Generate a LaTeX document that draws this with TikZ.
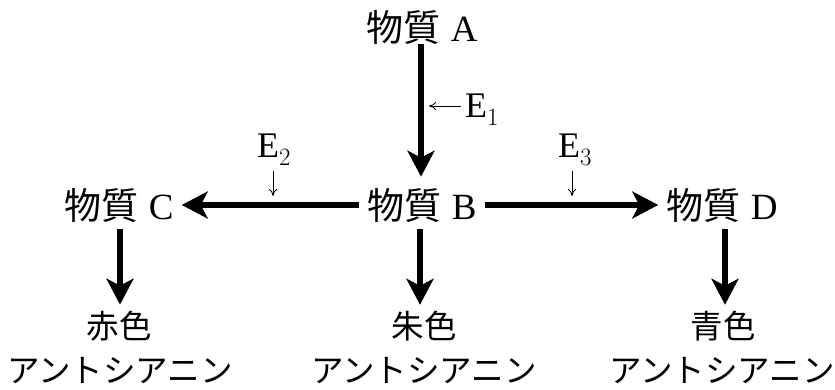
\documentclass[tikz,border=0pt]{standalone}
\usepackage{fontspec}
\setmainfont{Liberation Serif}
\newfontfamily\jp{Noto Sans CJK JP}
\usetikzlibrary{arrows.meta}
\begin{document}
\begin{tikzpicture}[x=1pt,y=-1pt,
  mat/.style={font=\fontsize{37}{40}\selectfont, inner xsep=8pt, inner ysep=0pt},
  col/.style={font=\fontsize{32.5}{36}\selectfont\jp, inner sep=0pt},
  elab/.style={font=\fontsize{36}{40}\selectfont, inner sep=0pt, anchor=base west},
  thick arrow/.style={line width=6pt, -{Stealth[length=26pt,width=27pt,inset=7pt]}},
  down arrow/.style={thick arrow, shorten <=7pt, shorten >=6pt},
  thin arrow/.style={line width=0.9pt, -{To[length=7pt,width=8pt]}}]
\useasboundingbox (0,0) rectangle (835,390);
% substance nodes
\node[mat] (A) at (422,27) {{\jp 物質}\hspace{0.28em}A};
\node[mat] (B) at (422,205) {{\jp 物質}\hspace{0.28em}B};
\node[mat] (C) at (119,205) {{\jp 物質}\hspace{0.28em}C};
\node[mat] (D) at (722,205) {{\jp 物質}\hspace{0.28em}D};
% colour nodes
\node[col] (c1) at (119,326) {赤色};
\node[col] (c2) at (424,326) {朱色};
\node[col] (c3) at (723,326) {青色};
\node[col] (a1) at (120,371) {アントシアニン};
\node[col] (a2) at (424,371) {アントシアニン};
\node[col] (a3) at (722,371) {アントシアニン};
% main arrows
\draw[thick arrow, shorten >=11pt] (A.south -| 421,0) -- (B.north -| 421,0);
\draw[thick arrow] (B.west) -- (C.east);
\draw[thick arrow] (B.east) -- (D.west);
\draw[down arrow] (C.south -| 120,0) -- (c1.north -| 120,0);
\draw[down arrow] (B.south -| 420,0) -- (c2.north -| 420,0);
\draw[down arrow] (D.south -| 725,0) -- (c3.north -| 725,0);
% enzyme labels
\node[elab] (E1) at (465,118) {E$_1$};
\node[elab] (E2) at (257,158) {E$_2$};
\node[elab] (E3) at (558,158) {E$_3$};
\coordinate (e1t) at (429,106);
\coordinate (e2t) at (273,196);
\coordinate (e3t) at (572,196);
\draw[thin arrow] (E1.west |- e1t) ++(-4,0) -- (e1t);
\draw[thin arrow] (E2.south -| e2t) ++(0,5) -- (e2t);
\draw[thin arrow] (E3.south -| e3t) ++(0,5) -- (e3t);
\end{tikzpicture}
\end{document}
